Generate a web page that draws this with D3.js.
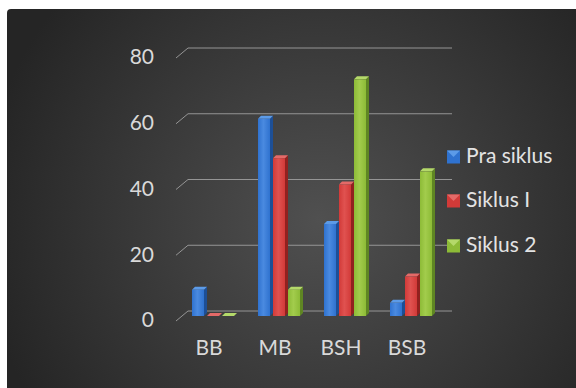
<!DOCTYPE html>
<html><head><meta charset="utf-8">
<script src="https://cdn.jsdelivr.net/npm/d3@7/dist/d3.min.js"></script>
<style>html,body{margin:0;padding:0;background:#fff;}svg{display:block;}</style>
</head><body>
<svg id="c" width="576" height="388"></svg>
<script>
const categories = ["BB", "MB", "BSH", "BSB"];
const seriesNames = ["Pra siklus", "Siklus I", "Siklus 2"];
const praSiklus = [8, 60, 28, 4];
const siklus1 = [0, 48, 40, 12];
const siklus2 = [0, 8, 72, 44];
const yTicks = [0, 20, 40, 60, 80];
const seriesValues = [praSiklus, siklus1, siklus2];

const colors = [
  {front:"#2f72cf", light:"#4a8ae0", side:"#1d4f96", top:"#5c9be8"},
  {front:"#d23a38", light:"#e05250", side:"#92211f", top:"#e46a68"},
  {front:"#8dbb37", light:"#a2cc4c", side:"#5f8623", top:"#b4d96a"}
];

const svg = d3.select("#c");
const defs = svg.append("defs");
const bg = defs.append("radialGradient").attr("id","bg")
  .attr("gradientUnits","userSpaceOnUse").attr("cx",320).attr("cy",220).attr("r",340);
bg.append("stop").attr("offset","0%").attr("stop-color","#505050");
bg.append("stop").attr("offset","100%").attr("stop-color","#252525");

colors.forEach((c,i)=>{
  const g = defs.append("linearGradient").attr("id","f"+i).attr("x1",0).attr("x2",1).attr("y1",0).attr("y2",0);
  g.append("stop").attr("offset","0%").attr("stop-color",c.front);
  g.append("stop").attr("offset","45%").attr("stop-color",c.light);
  g.append("stop").attr("offset","100%").attr("stop-color",c.front);
});

svg.append("rect").attr("x",7).attr("y",9).attr("width",576).attr("height",390)
  .attr("rx",4).attr("fill","url(#bg)");

const depthX = 12, depthY = -10;
const x = d3.scaleBand().domain(categories).range([176, 440]);
const inner = d3.scaleBand().domain(seriesNames).range([0, 45]);
const y = d3.scaleLinear().domain([0, 80]).range([316, 53]);

// gridlines (back wall + diagonal side)
const grid = svg.append("g");
yTicks.forEach(t=>{
  const yb = y(t) + depthY/2, yf = y(t) - depthY/2;
  grid.append("path")
    .attr("d", `M${176},${yf}L${176+depthX},${yb}H${440+depthX}`)
    .attr("fill","none").attr("stroke","#959595").attr("stroke-width",1);
});

// y labels
const font = "Lato, 'Open Sans', sans-serif";
svg.append("g").selectAll("text").data(yTicks).join("text")
  .attr("x",154).attr("y",d=>y(d)-depthY/2+1).attr("text-anchor","end")
  .attr("dominant-baseline","middle").attr("font-family",font).attr("font-size",21)
  .attr("fill","#d9d9d9").text(d=>d);

// x labels
svg.append("g").selectAll("text").data(categories).join("text")
  .attr("x",d=>x(d)+x.bandwidth()/2).attr("y",350).attr("text-anchor","middle")
  .attr("dominant-baseline","middle").attr("font-family",font).attr("font-size",21)
  .attr("fill","#d9d9d9").text(d=>d);

// bars
const bw = 12, sd = 3, sh = 3;
const bars = svg.append("g");
categories.forEach((cat,ci)=>{
  seriesNames.forEach((s,si)=>{
    const v = seriesValues[si][ci];
    const x0 = x(cat) + 16 + inner(s);
    const yt = y(v), yb = y(0);
    const c = colors[si];
    const g = bars.append("g");
    g.append("path").attr("d",`M${x0+bw},${yt}L${x0+bw+sd},${yt-sh}V${yb-sh}L${x0+bw},${yb}Z`).attr("fill",c.side);
    g.append("path").attr("d",`M${x0},${yt}L${x0+sd},${yt-sh}H${x0+bw+sd}L${x0+bw},${yt}Z`).attr("fill",c.top);
    if (yb - yt > 0) g.append("rect").attr("x",x0).attr("y",yt).attr("width",bw).attr("height",yb-yt).attr("fill","url(#f"+si+")");
  });
});

// legend
const leg = svg.append("g");
const legY = [157, 201, 246];
seriesNames.forEach((s,i)=>{
  const c = colors[i];
  const lx = 447, ly = legY[i]-6.5, sz = 13;
  leg.append("rect").attr("x",lx).attr("y",ly).attr("width",sz).attr("height",sz).attr("fill",c.front);
  leg.append("path").attr("d",`M${lx},${ly}H${lx+sz}L${lx+sz/2},${ly+sz/2}Z`).attr("fill",c.top);
  leg.append("text").attr("x",466).attr("y",legY[i]+1).attr("dominant-baseline","middle")
    .attr("font-family",font).attr("font-size",21).attr("fill","#e3e3e3").text(s);
});
</script>
</body></html>
